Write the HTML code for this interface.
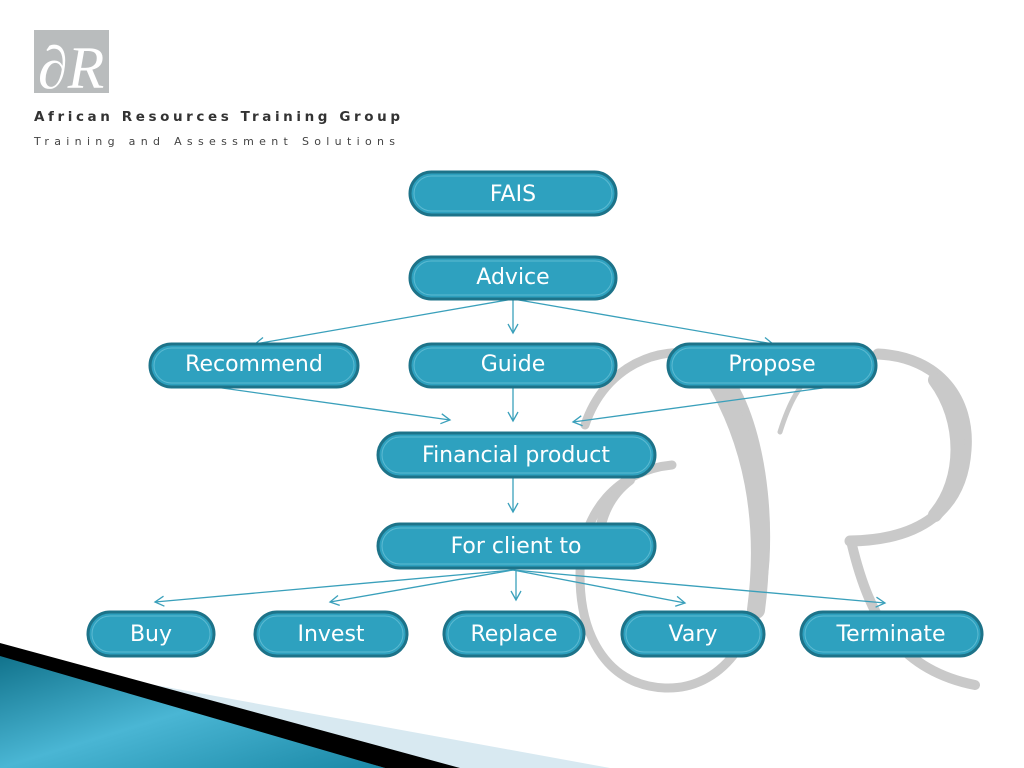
<!DOCTYPE html>
<html><head><style>
body{margin:0;width:1024px;height:768px;background:#fff;position:relative;overflow:hidden;font-family:"DejaVu Sans","Liberation Sans",sans-serif}
svg{position:absolute;left:0;top:0}
</style></head><body>
<svg width="1024" height="768" viewBox="0 0 1024 768">
<defs>
<linearGradient id="bl" x1="0" y1="0" x2="1" y2="1">
<stop offset="0" stop-color="#0e6f88"/><stop offset="0.5" stop-color="#4ab6d4"/><stop offset="1" stop-color="#1a88a6"/></linearGradient>
<marker id="ah" markerWidth="12" markerHeight="12" refX="10" refY="6" orient="auto" markerUnits="userSpaceOnUse">
<path d="M1,1 L10,6 L1,11" fill="none" stroke="#3aa0bb" stroke-width="1.3"/></marker>
</defs>
<g fill="none" stroke="#c9c9c9" stroke-linecap="round">
<path d="M585,425 C605,365 660,345 700,355 C745,370 770,470 765,560 C760,640 720,690 665,688 C610,686 580,640 580,575 C580,510 620,470 672,465" stroke-width="9"/>
<path d="M712,375 C752,440 768,520 756,610" stroke-width="18"/>
<path d="M598,560 C596,520 610,495 630,480" stroke-width="10"/>
<path d="M878,354 C940,357 970,400 966,450 C962,510 920,540 850,541" stroke-width="11"/>
<path d="M935,380 C965,420 965,480 935,515" stroke-width="14"/>
<path d="M852,545 C870,620 900,670 975,685" stroke-width="10"/>
<path d="M780,432 C790,400 800,385 815,370" stroke-width="5"/>
</g>
<polygon points="100,675 610,768 450,768" fill="#d8e9f1"/>
<polygon points="0,650 0,768 385,768" fill="url(#bl)"/>
<polygon points="0,643 460,768 385,768 0,656" fill="#000"/>
<rect x="34" y="30" width="75" height="63" fill="#b9bcbd"/>
<text x="38" y="88" font-family="Liberation Serif,serif" font-style="italic" font-size="60" fill="#fff">∂R</text>
<text x="34" y="121" font-family="DejaVu Sans,sans-serif" font-size="13.5" font-weight="bold" fill="#333" textLength="366" lengthAdjust="spacing">African Resources Training Group</text>
<text x="34" y="145" font-family="DejaVu Sans,sans-serif" font-size="11" fill="#444" textLength="361" lengthAdjust="spacing">Training and Assessment Solutions</text>
<g stroke="#3aa0bb" stroke-width="1.3" fill="none" marker-end="url(#ah)">
<line x1="513" y1="299" x2="255" y2="344"/>
<line x1="513" y1="299" x2="513" y2="333"/>
<line x1="513" y1="299" x2="773" y2="344"/>
<line x1="215" y1="387" x2="450" y2="420"/>
<line x1="513" y1="387" x2="513" y2="421"/>
<line x1="830" y1="387" x2="573" y2="422"/>
<line x1="513" y1="477" x2="513" y2="512"/>
<line x1="513" y1="570" x2="155" y2="602"/>
<line x1="513" y1="570" x2="330" y2="602"/>
<line x1="516" y1="570" x2="516" y2="600"/>
<line x1="513" y1="570" x2="685" y2="603"/>
<line x1="513" y1="570" x2="885" y2="603"/>
</g>
</svg>
<svg width="1024" height="768" viewBox="0 0 1024 768">
<g font-family="DejaVu Sans,sans-serif" font-size="22" text-anchor="middle">
<rect x="410" y="172" width="206" height="43" rx="21.5" fill="#2ea1bf" stroke="#1d7389" stroke-width="3"/><rect x="414" y="176" width="198" height="35" rx="17.5" fill="none" stroke="#5cbad2" stroke-width="1"/><text x="513" y="201" fill="#fff">FAIS</text>
<rect x="410" y="257" width="206" height="42" rx="21" fill="#2ea1bf" stroke="#1d7389" stroke-width="3"/><rect x="414" y="261" width="198" height="34" rx="17" fill="none" stroke="#5cbad2" stroke-width="1"/><text x="513" y="284" fill="#fff">Advice</text>
<rect x="150" y="344" width="208" height="43" rx="21.5" fill="#2ea1bf" stroke="#1d7389" stroke-width="3"/><rect x="154" y="348" width="200" height="35" rx="17.5" fill="none" stroke="#5cbad2" stroke-width="1"/><text x="254" y="371" fill="#fff">Recommend</text>
<rect x="410" y="344" width="206" height="43" rx="21.5" fill="#2ea1bf" stroke="#1d7389" stroke-width="3"/><rect x="414" y="348" width="198" height="35" rx="17.5" fill="none" stroke="#5cbad2" stroke-width="1"/><text x="513" y="371" fill="#fff">Guide</text>
<rect x="668" y="344" width="208" height="43" rx="21.5" fill="#2ea1bf" stroke="#1d7389" stroke-width="3"/><rect x="672" y="348" width="200" height="35" rx="17.5" fill="none" stroke="#5cbad2" stroke-width="1"/><text x="772" y="371" fill="#fff">Propose</text>
<rect x="378" y="433" width="277" height="44" rx="22" fill="#2ea1bf" stroke="#1d7389" stroke-width="3"/><rect x="382" y="437" width="269" height="36" rx="18" fill="none" stroke="#5cbad2" stroke-width="1"/><text x="516" y="462" fill="#fff">Financial product</text>
<rect x="378" y="524" width="277" height="44" rx="22" fill="#2ea1bf" stroke="#1d7389" stroke-width="3"/><rect x="382" y="528" width="269" height="36" rx="18" fill="none" stroke="#5cbad2" stroke-width="1"/><text x="516" y="553" fill="#fff">For client to</text>
<rect x="88" y="612" width="126" height="44" rx="22" fill="#2ea1bf" stroke="#1d7389" stroke-width="3"/><rect x="92" y="616" width="118" height="36" rx="18" fill="none" stroke="#5cbad2" stroke-width="1"/><text x="151" y="641" fill="#fff">Buy</text>
<rect x="255" y="612" width="152" height="44" rx="22" fill="#2ea1bf" stroke="#1d7389" stroke-width="3"/><rect x="259" y="616" width="144" height="36" rx="18" fill="none" stroke="#5cbad2" stroke-width="1"/><text x="331" y="641" fill="#fff">Invest</text>
<rect x="444" y="612" width="140" height="44" rx="22" fill="#2ea1bf" stroke="#1d7389" stroke-width="3"/><rect x="448" y="616" width="132" height="36" rx="18" fill="none" stroke="#5cbad2" stroke-width="1"/><text x="514" y="641" fill="#fff">Replace</text>
<rect x="622" y="612" width="142" height="44" rx="22" fill="#2ea1bf" stroke="#1d7389" stroke-width="3"/><rect x="626" y="616" width="134" height="36" rx="18" fill="none" stroke="#5cbad2" stroke-width="1"/><text x="693" y="641" fill="#fff">Vary</text>
<rect x="801" y="612" width="181" height="44" rx="22" fill="#2ea1bf" stroke="#1d7389" stroke-width="3"/><rect x="805" y="616" width="173" height="36" rx="18" fill="none" stroke="#5cbad2" stroke-width="1"/><text x="891" y="641" fill="#fff">Terminate</text>
</g>
</svg>
</body></html>
